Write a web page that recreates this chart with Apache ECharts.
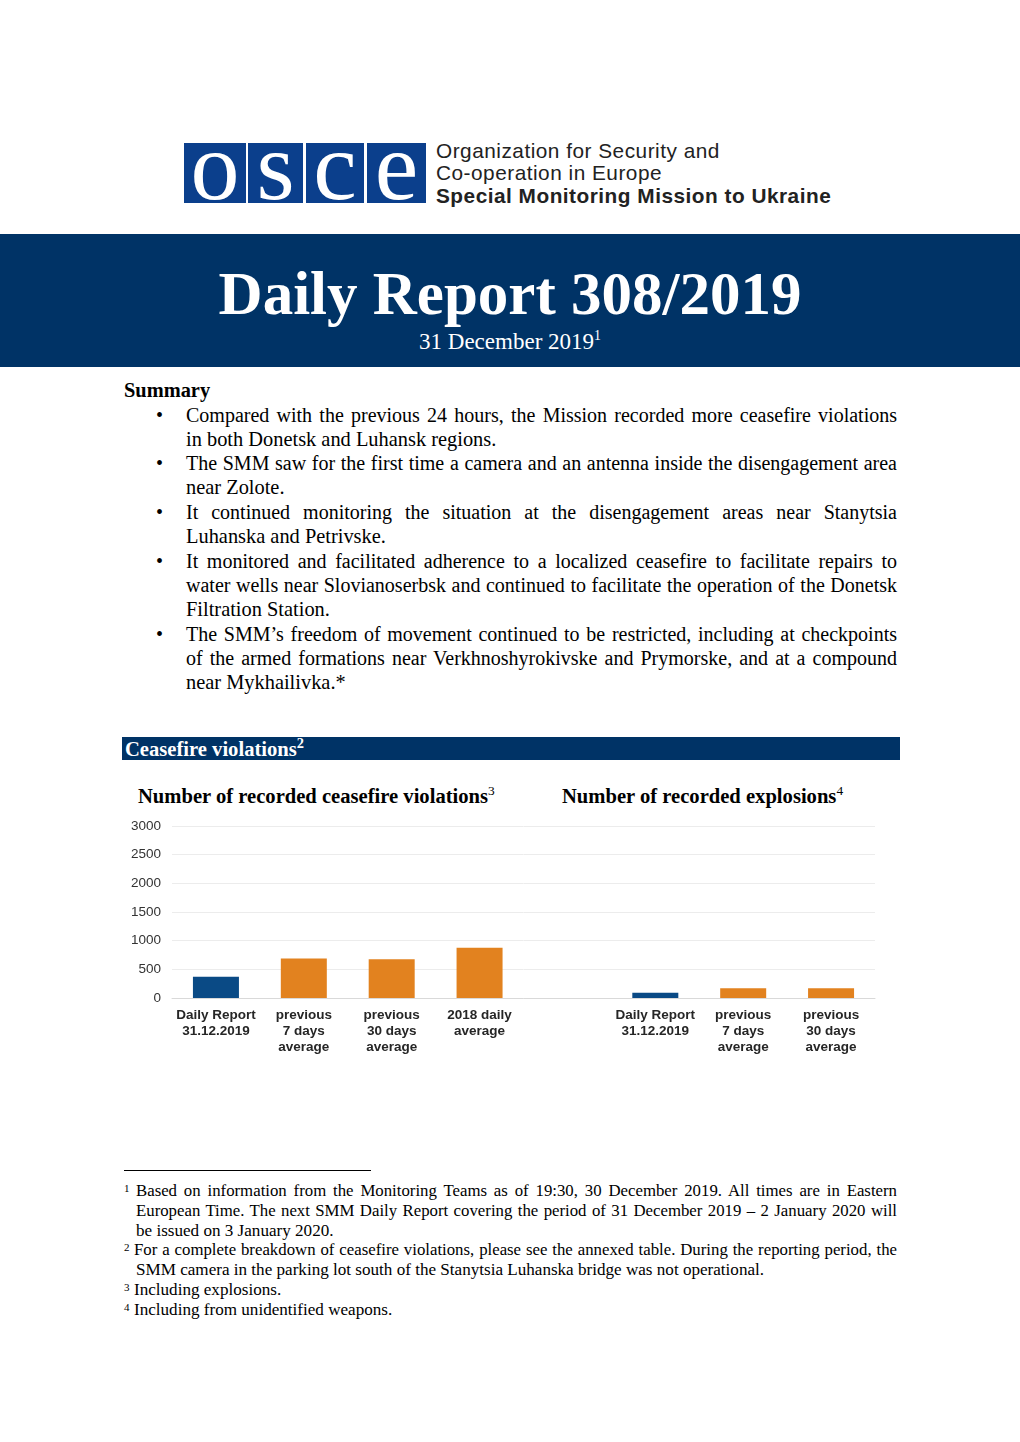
<!DOCTYPE html>
<html><head><meta charset="utf-8">
<script src="https://cdn.jsdelivr.net/npm/echarts@6/dist/echarts.min.js"></script>
<style>
html,body{margin:0;padding:0;background:#fff;}
#page{position:relative;width:1020px;height:1442px;overflow:hidden;font-family:"Liberation Serif","Times New Roman",serif;color:#000;}
.abs{position:absolute;}
.box{position:absolute;top:143px;height:60px;background:#0b3f8c;}
.box span{position:absolute;left:0;right:0;top:0;color:#fff;font-family:"Liberation Serif",serif;font-size:98px;line-height:46px;text-align:center;}
.org{position:absolute;left:436px;font-family:"Liberation Sans",Arial,sans-serif;font-size:20.8px;line-height:22px;color:#222;white-space:nowrap;letter-spacing:0.5px;}
.ln{position:absolute;left:186px;width:711px;font-size:20.4px;line-height:24px;white-space:nowrap;}
.ln.j{font-size:20px;}
.j{text-align:justify;text-align-last:justify;white-space:normal;}
.bul{position:absolute;left:156px;font-size:20px;line-height:24px;}
.fn{position:absolute;left:136px;width:761px;font-size:17.1px;line-height:20px;white-space:nowrap;}
.fn.j{font-size:16.8px;}
.fnum{position:absolute;left:124px;font-size:11px;line-height:14px;}
sup{font-size:60%;line-height:0;}
</style></head>
<body><div id="page">
<!-- logo -->
<div class="box" style="left:184px;width:62px;"><span>o</span></div>
<div class="box" style="left:248px;width:55px;"><span>s</span></div>
<div class="box" style="left:306px;width:58px;"><span>c</span></div>
<div class="box" style="left:367px;width:59px;"><span>e</span></div>
<div class="org" style="top:139.5px;">Organization for Security and</div>
<div class="org" style="top:162px;">Co-operation in Europe</div>
<div class="org" style="top:184.5px;font-weight:bold;">Special Monitoring Mission to Ukraine</div>
<!-- header band -->
<div class="abs" style="left:0;top:234px;width:1020px;height:133px;background:#003366;"></div>
<div class="abs" style="left:0;top:258px;width:1020px;text-align:center;color:#fff;font-weight:bold;font-size:61px;line-height:72px;">Daily Report 308/2019</div>
<div class="abs" style="left:0;top:328px;width:1020px;text-align:center;color:#fff;font-size:23px;line-height:28px;">31 December 2019<sup>1</sup></div>
<!-- summary -->
<div class="abs" style="left:124px;top:378px;font-weight:bold;font-size:20.4px;line-height:24px;">Summary</div>
<div class="bul" style="top:403px;">•</div>
<div class="ln j" style="top:403px;">Compared with the previous 24 hours, the Mission recorded more ceasefire violations</div>
<div class="ln" style="top:427px;">in both Donetsk and Luhansk regions.</div>
<div class="bul" style="top:451px;">•</div>
<div class="ln j" style="top:451px;">The SMM saw for the first time a camera and an antenna inside the disengagement area</div>
<div class="ln" style="top:475px;">near Zolote.</div>
<div class="bul" style="top:500px;">•</div>
<div class="ln j" style="top:500px;">It continued monitoring the situation at the disengagement areas near Stanytsia</div>
<div class="ln" style="top:524px;">Luhanska and Petrivske.</div>
<div class="bul" style="top:549px;">•</div>
<div class="ln j" style="top:549px;">It monitored and facilitated adherence to a localized ceasefire to facilitate repairs to</div>
<div class="ln j" style="top:573px;">water wells near Slovianoserbsk and continued to facilitate the operation of the Donetsk</div>
<div class="ln" style="top:597px;">Filtration Station.</div>
<div class="bul" style="top:622px;">•</div>
<div class="ln j" style="top:622px;">The SMM’s freedom of movement continued to be restricted, including at checkpoints</div>
<div class="ln j" style="top:646px;">of the armed formations near Verkhnoshyrokivske and Prymorske, and at a compound</div>
<div class="ln" style="top:670px;">near Mykhailivka.*</div>
<!-- section header -->
<div class="abs" style="left:122px;top:737px;width:778px;height:23px;background:#003366;"></div>
<div class="abs" style="left:125px;top:737px;color:#fff;font-weight:bold;font-size:20.6px;line-height:24px;">Ceasefire violations<sup style="font-size:70%;">2</sup></div>
<div class="abs" style="left:138px;top:784px;font-weight:bold;font-size:20.6px;line-height:24px;">Number of recorded ceasefire violations<sup style="font-weight:normal;font-size:65%;">3</sup></div>
<div class="abs" style="left:562px;top:784px;font-weight:bold;font-size:20.6px;line-height:24px;">Number of recorded explosions<sup style="font-weight:normal;font-size:65%;">4</sup></div>
<!-- chart -->
<div id="chart" class="abs" style="left:120px;top:815px;width:770px;height:250px;"></div>
<!-- footnotes -->
<div class="abs" style="left:124px;top:1170px;width:247px;height:1px;background:#000;"></div>
<div class="fnum" style="top:1181px;">1</div>
<div class="fn j" style="top:1181px;">Based on information from the Monitoring Teams as of 19:30, 30 December 2019. All times are in Eastern</div>
<div class="fn j" style="top:1201px;">European Time. The next SMM Daily Report covering the period of 31 December 2019 – 2 January 2020 will</div>
<div class="fn" style="top:1221px;">be issued on 3 January 2020.</div>
<div class="fnum" style="top:1240px;">2</div>
<div class="fn j" style="top:1240px;left:134px;width:763px;">For a complete breakdown of ceasefire violations, please see the annexed table. During the reporting period, the</div>
<div class="fn" style="top:1260px;">SMM camera in the parking lot south of the Stanytsia Luhanska bridge was not operational.</div>
<div class="fnum" style="top:1280px;">3</div>
<div class="fn" style="top:1280px;left:134px;">Including explosions.</div>
<div class="fnum" style="top:1300px;">4</div>
<div class="fn" style="top:1300px;left:134px;">Including from unidentified weapons.</div>
</div>
<script>
// ---- data ----
const violationCategories = ['Daily Report\n31.12.2019', 'previous\n7 days\naverage', 'previous\n30 days\naverage', '2018 daily\naverage'];
const violationValues = [370, 690, 675, 878];
const explosionCategories = ['Daily Report\n31.12.2019', 'previous\n7 days\naverage', 'previous\n30 days\naverage'];
const explosionValues = [90, 170, 170];
const yTicks = [0, 500, 1000, 1500, 2000, 2500, 3000];

const BLUE = '#0a4a85';
const ORANGE = '#e2821f';
const categories = violationCategories.concat([''], explosionCategories);
const values = violationValues.map((v, i) => ({ value: v, itemStyle: { color: i === 0 ? BLUE : ORANGE } }))
  .concat([{ value: null }])
  .concat(explosionValues.map((v, i) => ({ value: v, itemStyle: { color: i === 0 ? BLUE : ORANGE } })));

const chart = echarts.init(document.getElementById('chart'), null, { renderer: 'canvas' });
chart.setOption({
  animation: false,
  grid: { left: 52, top: 11, width: 703, height: 172, containLabel: false },
  xAxis: {
    type: 'category', data: categories,
    axisLine: { show: true, lineStyle: { color: '#d9d9d9', width: 1 } },
    axisTick: { show: false },
    axisLabel: { interval: 0, color: '#262626', fontFamily: 'Liberation Sans, Arial, sans-serif', fontWeight: 'bold', fontSize: 13.5, lineHeight: 16, margin: 9 }
  },
  yAxis: {
    type: 'value', min: yTicks[0], max: yTicks[yTicks.length - 1], interval: yTicks[1] - yTicks[0],
    axisLine: { show: false }, axisTick: { show: false },
    splitLine: { lineStyle: { color: '#ececec', width: 1 } },
    axisLabel: { color: '#333', fontFamily: 'Liberation Sans, Arial, sans-serif', fontSize: 13.5, margin: 11, formatter: v => String(v) }
  },
  series: [{ type: 'bar', data: values, barWidth: 46 }]
});
</script>
</body></html>
